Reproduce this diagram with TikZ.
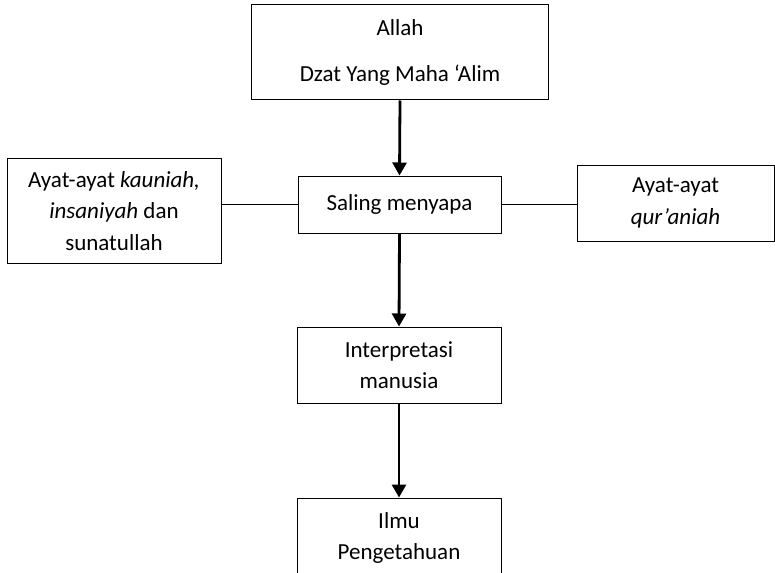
\documentclass[tikz,border=0pt]{standalone}
\usepackage{fontspec}
\setmainfont{Carlito}
\usetikzlibrary{arrows.meta}
\begin{document}
\begin{tikzpicture}[x=1pt,y=-1pt,
  box/.style={draw=black,line width=1pt,rectangle,inner sep=0pt,align=center,
    font=\fontsize{23}{31.5}\selectfont},
  flow/.style={line width=2.8pt,-{Triangle[length=13pt,width=14pt]}},
  link/.style={line width=1pt}]
  \useasboundingbox (0,0) rectangle (775,572);

  % boxes
  \node[box,minimum width=297pt,minimum height=95pt] (allah) at (400,52.5)
    {Allah\\[14pt]Dzat Yang Maha ‘Alim};
  \node[box,minimum width=203pt,minimum height=57pt] (saling) at (399.5,204.5)
    {Saling menyapa};
  \node[box,minimum width=214pt,minimum height=104pt] (ayatk) at (114,211)
    {Ayat-ayat \textit{kauniah,}\\\textit{insaniyah} dan\\sunatullah};
  \node[box,minimum width=197pt,minimum height=76pt] (ayatq) at (675.5,203)
    {Ayat-ayat\\\textit{qur’aniah}};
  \node[box,minimum width=204pt,minimum height=76pt] (interp) at (399,365)
    {Interpretasi\\manusia};
  \node[box,minimum width=204pt,minimum height=80pt] (ilmu) at (399,538)
    {Ilmu\\Pengetahuan};

  % connectors
  \draw[flow] (allah.south) -- (saling.north);
  \draw[flow] (saling.south) -- (interp.north);
  \draw[flow] (interp.south) -- (ilmu.north);
  \draw[link] (saling.west) -- (saling.west -| ayatk.east);
  \draw[link] (saling.east) -- (saling.east -| ayatq.west);
\end{tikzpicture}
\end{document}
